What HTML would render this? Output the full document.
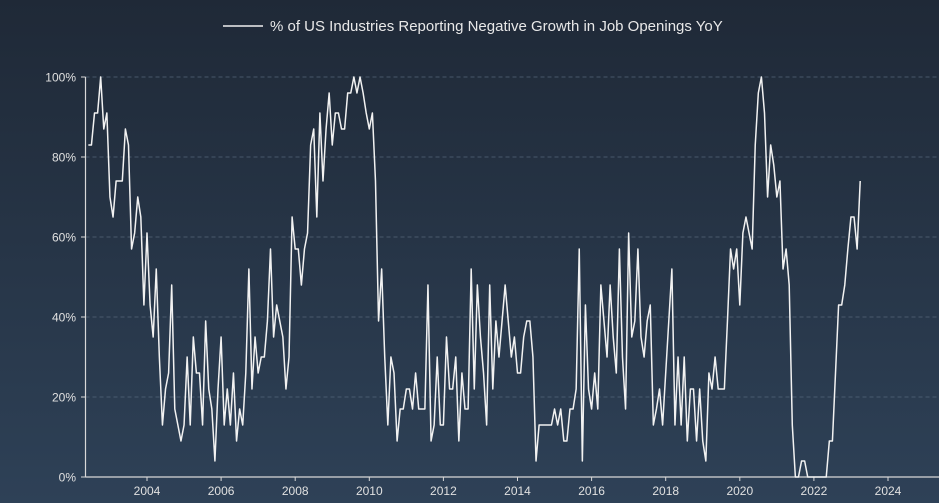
<!DOCTYPE html>
<html><head><meta charset="utf-8"><style>
html,body{margin:0;padding:0;width:939px;height:503px;overflow:hidden;background:linear-gradient(#1f2937,#2d3f56);}
svg{display:block;font-family:"Liberation Sans",sans-serif;}
</style></head><body>
<svg id="chart" width="939" height="503" viewBox="0 0 939 503">
<defs><linearGradient id="bg" x1="0" y1="0" x2="0" y2="1"><stop offset="0" stop-color="#1f2937"/><stop offset="1" stop-color="#2e4157"/></linearGradient></defs>
<rect width="939" height="503" fill="url(#bg)"/>
<g>
<line x1="223" y1="26" x2="263" y2="26" stroke="#f0f0f0" stroke-width="1.5"/>
<text x="270" y="31" fill="#e8e8e8" font-size="15">% of US Industries Reporting Negative Growth in Job Openings YoY</text>
</g>
<g id="grid"></g><g id="axes"></g><g id="series"></g>
</svg>
<script>
const yTicks = [0,20,40,60,80,100];
const yTickLabels = ["0%","20%","40%","60%","80%","100%"];
const xTickYears = [2004,2006,2008,2010,2012,2014,2016,2018,2020,2022,2024];
const startYear = 2002, startMonth = 5; // June 2002 (0-based month)
const values = [
83,83,91,91,100,87,91,70,65,74,74,74,87,83,57,61,70,65,43,61,
43,35,52,30,13,22,26,48,17,13,9,13,30,13,35,26,26,13,39,22,
17,4,22,35,13,22,13,26,9,17,13,26,52,22,35,26,30,30,39,57,
35,43,39,35,22,30,65,57,57,48,57,61,83,87,65,91,74,87,96,83,
91,91,87,87,96,96,100,96,100,96,91,87,91,74,39,52,
30,13,30,26,9,17,17,22,22,17,26,17,17,17,48,9,13,30,13,13,
35,22,22,30,9,26,17,17,52,22,48,35,26,13,48,22,39,30,39,48,
39,30,35,26,26,35,39,39,30,4,13,13,13,13,13,17,13,17,9,9,
17,17,22,57,4,43,22,17,26,17,48,39,30,48,
35,26,57,30,17,61,35,39,57,35,30,39,43,13,17,22,13,26,39,52,
13,30,13,30,9,22,22,9,22,9,4,26,22,30,22,22,22,39,57,52,
57,43,61,65,61,57,83,96,100,91,70,83,78,70,74,52,57,48,13,0,
0,4,4,0,0,0,0,0,0,0,9,9,26,43,43,48,57,65,65,57,74
];
const NS="http://www.w3.org/2000/svg";
const X0=85.5, X1=939, Y0=477, Y1=77;
const pxPerYear=37.05, x2004=147;
function xScale(t){return x2004+(t-2004)*pxPerYear;}
function yScale(v){return Y0-(v/100)*(Y0-Y1);}
function mk(tag,attrs,parent){const e=document.createElementNS(NS,tag);for(const k in attrs)e.setAttribute(k,attrs[k]);parent.appendChild(e);return e;}
const grid=document.getElementById('grid'),axes=document.getElementById('axes'),series=document.getElementById('series');
yTicks.forEach((v,i)=>{
  const y=yScale(v);
  if(v>0){const g=mk('line',{x1:X0,y1:y,x2:X1,y2:y,stroke:'#55657a','stroke-width':0.8,'stroke-dasharray':'4 3'},grid);
  
  }
  const tk=mk('line',{x1:81,y1:y,x2:X0,y2:y,stroke:'#d8d8d8','stroke-width':1},axes);
  
  
  const t=mk('text',{x:76,y:y+4.5,'text-anchor':'end',fill:'#e0e0e0','font-size':12},axes);
  t.textContent=yTickLabels[i];
  
  
});
const ya=mk('line',{x1:X0,y1:Y1,x2:X0,y2:Y0,stroke:'#d8d8d8','stroke-width':1.2},axes);


const xa=mk('line',{x1:X0,y1:Y0,x2:X1,y2:Y0,stroke:'#d8d8d8','stroke-width':1.2},axes);


xTickYears.forEach(yr=>{
  const x=xScale(yr);
  const tk=mk('line',{x1:x,y1:Y0,x2:x,y2:Y0+4,stroke:'#d8d8d8','stroke-width':1},axes);
  
  
  const t=mk('text',{x:x,y:495,'text-anchor':'middle',fill:'#e0e0e0','font-size':12},axes);
  t.textContent=String(yr);
  
  
});
const pts=values.map((v,i)=>{const t=startYear+(startMonth+i)/12;return xScale(t).toFixed(2)+','+yScale(v).toFixed(2);});
const line=mk('polyline',{points:pts.join(' '),fill:'none',stroke:'#f2f2f2','stroke-width':1.5,'stroke-linejoin':'round'},series);


</script>
</body></html>
